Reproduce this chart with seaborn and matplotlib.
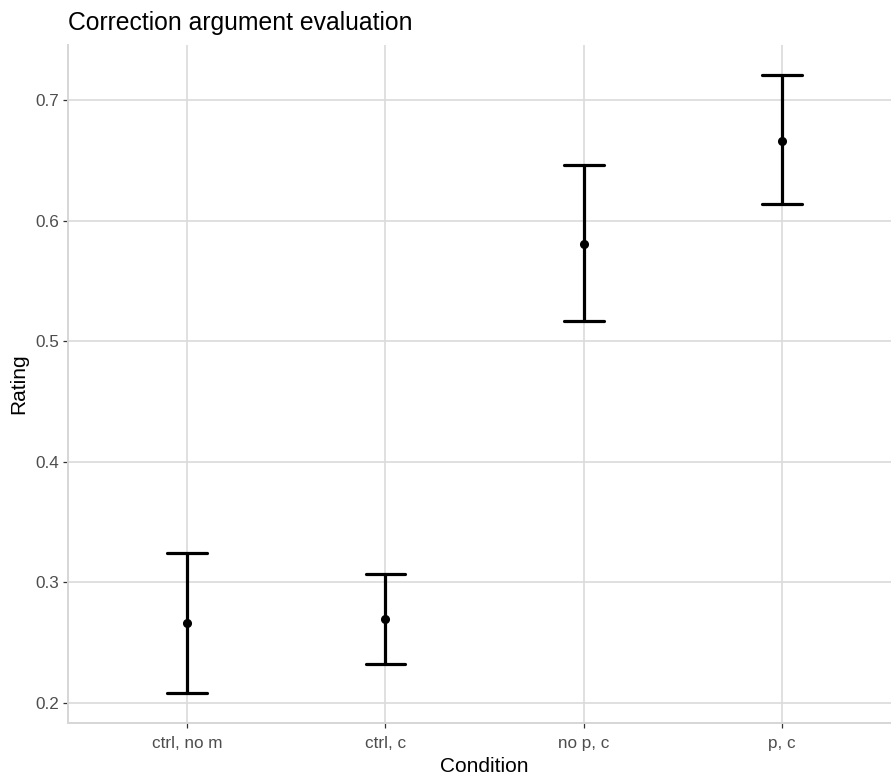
import matplotlib
matplotlib.use("Agg")
import matplotlib.pyplot as plt
import pandas as pd
import seaborn as sns

# Condition summaries: point estimate with lower / upper interval bounds
conditions = ["ctrl, no m", "ctrl, c", "no p, c", "p, c"]
rating_mean = [0.266, 0.270, 0.581, 0.666]
rating_lower = [0.208, 0.232, 0.517, 0.614]
rating_upper = [0.324, 0.307, 0.646, 0.721]
y_ticks = [0.2, 0.3, 0.4, 0.5, 0.6, 0.7]

# Long table: three rows per condition, so the median is the point
# and the full (0-100 %) percentile interval spans lower..upper
rows = []
for c, lo, m, hi in zip(conditions, rating_lower, rating_mean, rating_upper):
    for v in (lo, m, hi):
        rows.append({"Condition": c, "Rating": v})
df = pd.DataFrame(rows)

sns.set_theme(style="white")
plt.rcParams["font.family"] = ["Liberation Sans", "DejaVu Sans"]

fig = plt.figure(figsize=(8.91, 7.76), dpi=100)
W, H = 891, 776
ax = fig.add_axes([68 / W, (H - 723) / H, (901 - 68) / W, (723 - 45) / H])

sns.pointplot(
    data=df, x="Condition", y="Rating", order=conditions,
    estimator="median", errorbar=("pi", 100),
    color="black", linestyle="none", marker="o", markersize=4.5,
    capsize=0.2, err_kws={"linewidth": 2.3}, ax=ax,
)

ax.set_xlim(-0.6, 3.6)
ax.set_ylim(0.1834, 0.7456)
ax.set_yticks(y_ticks)
ax.set_yticklabels([f"{t:.1f}" for t in y_ticks])

ax.grid(True, color="#DADADA", linewidth=1.2)
ax.set_axisbelow(True)
for side in ("top", "right"):
    ax.spines[side].set_visible(False)
for side in ("left", "bottom"):
    ax.spines[side].set_color("#D6D6D6")
    ax.spines[side].set_linewidth(1.4)

ax.tick_params(axis="both", which="major", length=3.5, width=0.9, color="#333333",
               labelcolor="#4D4D4D", labelsize=12.3, pad=3,
               left=True, bottom=True)
ax.tick_params(axis="x", pad=6)

ax.set_xlabel("Condition", fontsize=15, color="black", labelpad=4)
ax.set_ylabel("Rating", fontsize=15, color="black", labelpad=5)
fig.text(68 / W, 1 - 23 / H, "Correction argument evaluation",
         fontsize=17.8, ha="left", va="center", color="black")

fig.savefig("out.png", dpi=100)
